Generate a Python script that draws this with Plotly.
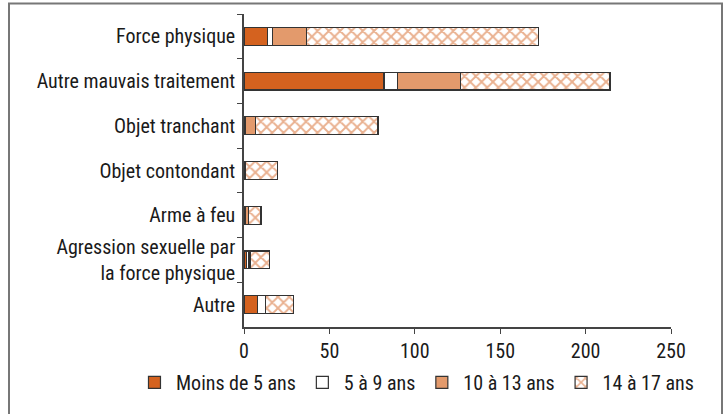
import plotly.graph_objects as go

categories = ["Force physique", "Autre mauvais traitement", "Objet tranchant",
              "Objet contondant", "Arme à feu",
              "Agression sexuelle par<br>la force physique", "Autre"]
moins_5 = [13.6, 82, 1, 0.5, 1, 1.5, 7.8]
de_5_9 = [2.9, 7.8, 0, 0, 0, 1, 4.9]
de_10_13 = [20.1, 37.1, 5.5, 0.5, 1.5, 1, 0]
de_14_17 = [135.6, 87.4, 72, 18.5, 7.5, 11.5, 16.1]
series_names = ["Moins de 5 ans", "5 à 9 ans", "10 à 13 ans", "14 à 17 ans"]
x_ticks = [0, 50, 100, 150, 200, 250]

DARK = "#D4621F"
LIGHT = "#E39A6C"
EDGE = "#333333"
FONT = "Roboto Condensed, Liberation Sans Narrow, sans-serif"

fig = go.Figure()
styles = [
    dict(color=DARK),
    dict(color="white"),
    dict(color=LIGHT),
    dict(color="white", pattern=dict(shape="x", fgcolor=DARK, bgcolor="white", size=8, solidity=0.42)),
]
for name, vals, st in zip(series_names, [moins_5, de_5_9, de_10_13, de_14_17], styles):
    fig.add_trace(go.Bar(
        y=categories, x=vals, name=name, orientation="h",
        marker=dict(**st, line=dict(color=EDGE, width=1.2)),
    ))

fig.update_layout(
    barmode="stack",
    bargap=0.6,
    width=726, height=414,
    margin=dict(l=244, r=55, t=14, b=74),
    paper_bgcolor="white", plot_bgcolor="white",
    font=dict(family=FONT, size=20, color="#1a1a1a"),
    showlegend=True,
    legend=dict(orientation="h", x=-0.26, xanchor="left", y=-0.177, yanchor="middle",
                font=dict(size=20), traceorder="normal", itemwidth=33,
                tracegroupgap=0),
    xaxis=dict(range=[0, 250], tickvals=x_ticks, showgrid=False, zeroline=False,
               showline=True, linecolor="#444", linewidth=1.5,
               ticks="outside", ticklen=5, tickcolor="#444"),
    yaxis=dict(autorange="reversed", showgrid=False, zeroline=False,
               showline=True, linecolor="#444", linewidth=1.5,
               ticks="outside", ticklen=5, tickcolor="#444", tickson="boundaries",
               ticklabelstandoff=3, type="category"),
    shapes=[dict(type="rect", xref="paper", yref="paper",
                 x0=(9 - 244) / 427, x1=(722 - 244) / 427,
                 y0=-0.5, y1=(340 - 3) / 326,
                 line=dict(color="#777", width=2), fillcolor="rgba(0,0,0,0)", layer="below")],
)

fig.write_html("out.html", post_script="document.body.style.margin='0';",
               config={"displayModeBar": False})
